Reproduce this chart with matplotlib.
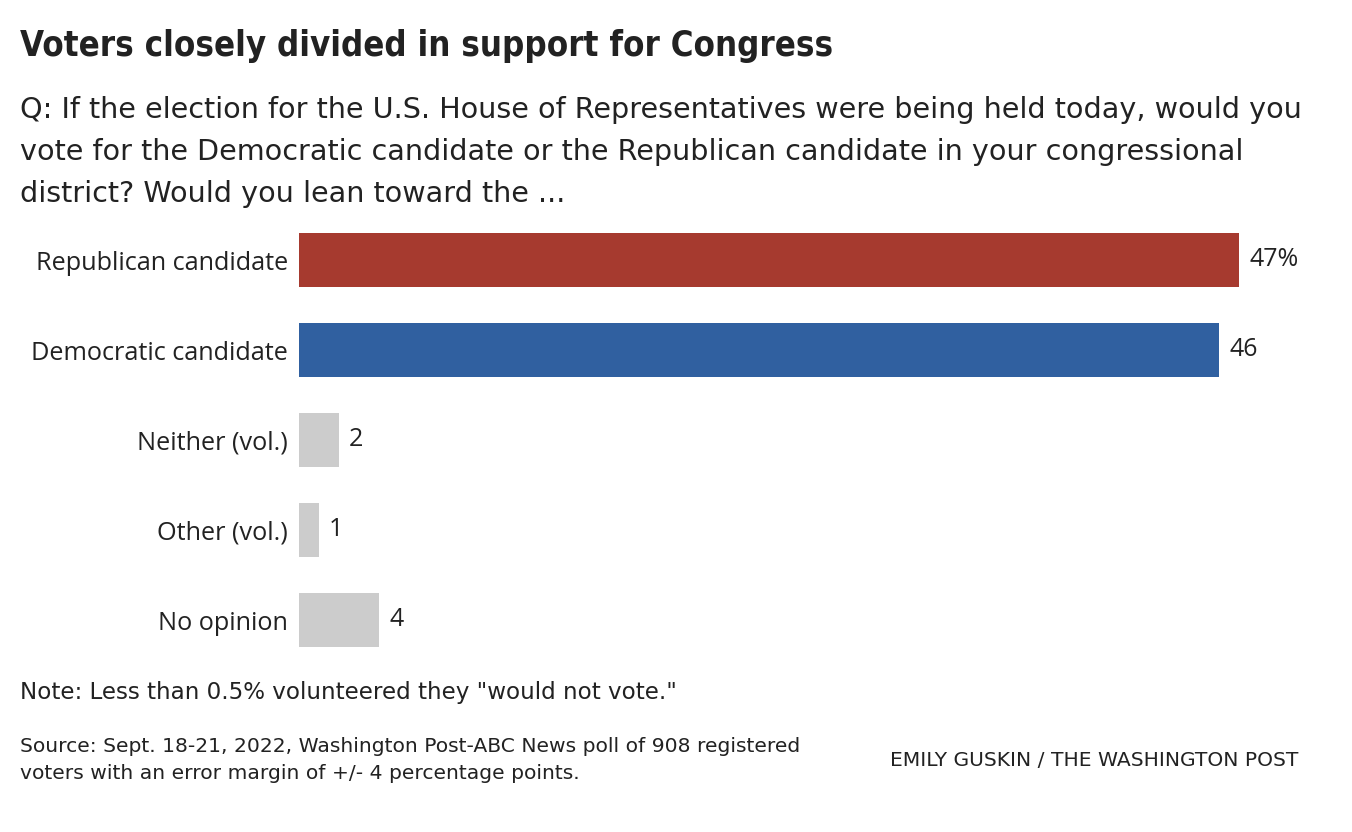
import matplotlib.pyplot as plt

categories = ["Republican candidate", "Democratic candidate", "Neither (vol.)",
              "Other (vol.)", "No opinion"]
values = [47, 46, 2, 1, 4]
value_labels = ["47%", "46", "2", "1", "4"]
colors = ["#A63A2F", "#3060A0", "#CCCCCC", "#CCCCCC", "#CCCCCC"]

sans = ["DejaVu Sans"]
plain = ["Open Sans", "DejaVu Sans"]
ink = "#222222"

fig = plt.figure(figsize=(13.52, 8.32), dpi=100)
ax = fig.add_axes([299 / 1352, 167 / 832, 1000 / 1352, 450 / 832])

y = list(range(len(categories)))
ax.barh(y, values, height=0.6, color=colors)
for yi, v, lab in zip(y, values, value_labels):
    ax.text(v + 0.5, yi, lab, va="center", ha="left", fontsize=18,
            family=plain, color=ink)

ax.set_xlim(0, 50)
ax.set_ylim(4.5, -0.5)
ax.set_yticks(y)
ax.set_yticklabels(categories, family=plain, fontsize=18.2, color=ink)
ax.tick_params(axis="y", length=0, pad=8)
ax.set_xticks([])
for s in ax.spines.values():
    s.set_visible(False)

# textos
fig.text(20 / 1352, 1 - 46 / 832, "Voters closely divided in support for Congress",
         family=sans, fontstretch="condensed", fontweight="bold", fontsize=24.9,
         color=ink, va="center")
fig.text(20 / 1352, 1 - 152 / 832,
         "Q: If the election for the U.S. House of Representatives were being held today, would you\n"
         "vote for the Democratic candidate or the Republican candidate in your congressional\n"
         "district? Would you lean toward the ...",
         family=sans, fontsize=20.6, color=ink, va="center", linespacing=1.62)
fig.text(20 / 1352, 1 - 692 / 832, 'Note: Less than 0.5% volunteered they "would not vote."',
         family=sans, fontsize=16.6, color=ink, va="center")
fig.text(20 / 1352, 1 - 760 / 832,
         "Source: Sept. 18-21, 2022, Washington Post-ABC News poll of 908 registered\n"
         "voters with an error margin of +/- 4 percentage points.",
         family=sans, fontsize=14.6, color=ink, va="center", linespacing=1.5)
fig.text(1298 / 1352, 1 - 760 / 832, "EMILY GUSKIN / THE WASHINGTON POST",
         family=sans, fontsize=14.6, color=ink, va="center", ha="right")

fig.savefig("out.png", dpi=100)
